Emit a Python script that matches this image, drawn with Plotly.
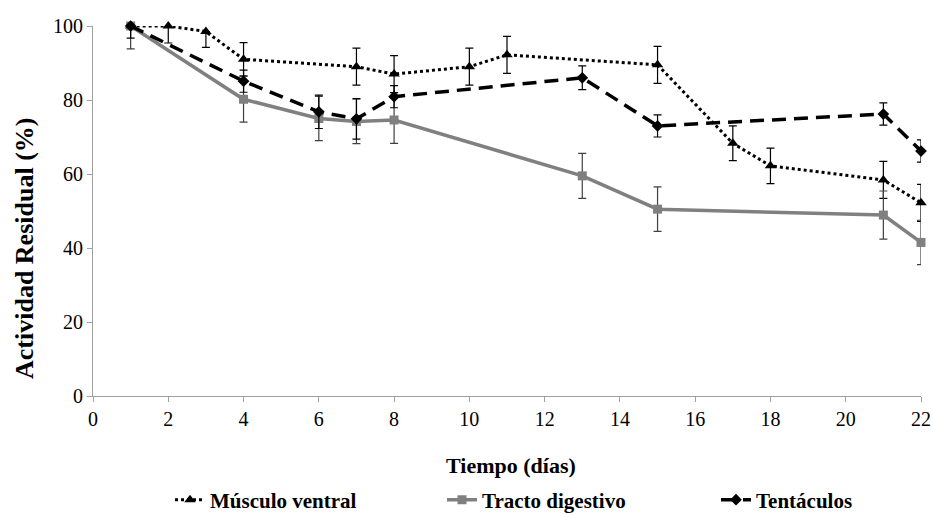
import plotly.graph_objects as go

# Data
musculo_x = [1, 2, 3, 4, 7, 8, 10, 11, 15, 17, 18, 21, 22]
musculo_y = [100, 100, 98.5, 91, 89, 87, 89, 92.2, 89.5, 68.3, 62.2, 58.4, 52.2]
musculo_err_up = [0, 0, 0, 4.5, 5, 5, 5, 5, 5, 4.7, 4.8, 5, 5]
musculo_err_dn = [0, 4.6, 4.3, 4.5, 5, 5, 5, 5, 5, 4.7, 4.8, 5, 5]

tracto_x = [1, 4, 6, 7, 8, 13, 15, 21, 22]
tracto_y = [100, 80.2, 75, 74.2, 74.6, 59.5, 50.5, 48.9, 41.5]
tracto_err_up = [0, 6.2, 6, 6, 6.3, 6.1, 6, 6.5, 6]
tracto_err_dn = [6.2, 6.2, 6, 6, 6.3, 6.1, 6, 6.5, 6]

tent_x = [1, 4, 6, 7, 8, 13, 15, 21, 22]
tent_y = [100, 85.1, 76.8, 74.9, 80.9, 86, 73, 76.2, 66.2]
tent_err_up = [0, 3, 4.5, 5.5, 3, 3.2, 3, 3, 3]
tent_err_dn = [3.3, 3, 4.5, 5.5, 3, 3.2, 3, 3, 3]

x_ticks = list(range(0, 23, 2))
y_ticks = [0, 20, 40, 60, 80, 100]

x_title = "Tiempo (días)"
y_title = "Actividad Residual (%)"

FONT = "Liberation Serif"

fig = go.Figure()

fig.add_trace(go.Scatter(
    x=musculo_x, y=musculo_y, name="Músculo ventral", mode="lines+markers",
    line=dict(color="black", width=3, dash="3px,3px"),
    marker=dict(symbol="triangle-up", size=10, color="black"),
    error_y=dict(type="data", symmetric=False, array=musculo_err_up, arrayminus=musculo_err_dn,
                 color="black", thickness=1.2, width=4),
    cliponaxis=False, legend="legend",
))
fig.add_trace(go.Scatter(
    x=tracto_x, y=tracto_y, name="Tracto digestivo", mode="lines+markers",
    line=dict(color="#808080", width=3.5),
    marker=dict(symbol="square", size=9, color="#808080"),
    error_y=dict(type="data", symmetric=False, array=tracto_err_up, arrayminus=tracto_err_dn,
                 color="#404040", thickness=1.2, width=4),
    cliponaxis=False, legend="legend2",
))
fig.add_trace(go.Scatter(
    x=tent_x, y=tent_y, name="Tentáculos", mode="lines+markers",
    line=dict(color="black", width=3.5, dash="14px,8px"),
    marker=dict(symbol="diamond", size=9, color="black"),
    error_y=dict(type="data", symmetric=False, array=tent_err_up, arrayminus=tent_err_dn,
                 color="black", thickness=1.2, width=4),
    cliponaxis=False, legend="legend3",
))

PL, PR, PT, PB = 93, 921, 26, 396
PW, PH = PR - PL, PB - PT

def px_x(p):
    return (p - PL) / PW

def px_y(p):
    return (PB - p) / PH

legend_common = dict(orientation="h", xanchor="left", yanchor="middle", y=px_y(500),
                     bgcolor="rgba(0,0,0,0)", borderwidth=0,
                     font=dict(family=FONT, size=21, color="black", weight="bold"))

fig.update_layout(
    width=933, height=514,
    margin=dict(l=PL, r=933 - PR, t=PT, b=514 - PB, autoexpand=False),
    paper_bgcolor="white", plot_bgcolor="white",
    font=dict(family=FONT, size=20, color="black"),
    showlegend=True,
    legend=dict(x=px_x(170), **legend_common),
    legend2=dict(x=px_x(442), **legend_common),
    legend3=dict(x=px_x(716), **legend_common),
)
fig.update_xaxes(
    range=[0, 22], tickvals=x_ticks, showgrid=False, zeroline=False,
    showline=True, linecolor="#a0a0a0", linewidth=1, ticks="outside", ticklen=5,
    tickcolor="#a0a0a0", tickfont=dict(family=FONT, size=20),
)
fig.update_yaxes(
    range=[0, 100], tickvals=y_ticks, showgrid=False, zeroline=False,
    showline=True, linecolor="#a0a0a0", linewidth=1, ticks="outside", ticklen=5,
    tickcolor="#a0a0a0", tickfont=dict(family=FONT, size=20),
)
fig.add_annotation(text=x_title, xref="paper", yref="paper", x=px_x(511), y=px_y(465),
                   xanchor="center", yanchor="middle", showarrow=False,
                   font=dict(family=FONT, size=22, color="black", weight="bold"))
fig.add_annotation(text=y_title, xref="paper", yref="paper", x=px_x(24), y=px_y(249),
                   xanchor="center", yanchor="middle", showarrow=False, textangle=-90,
                   font=dict(family=FONT, size=26, color="black", weight="bold"))

fig.write_html("out.html")
